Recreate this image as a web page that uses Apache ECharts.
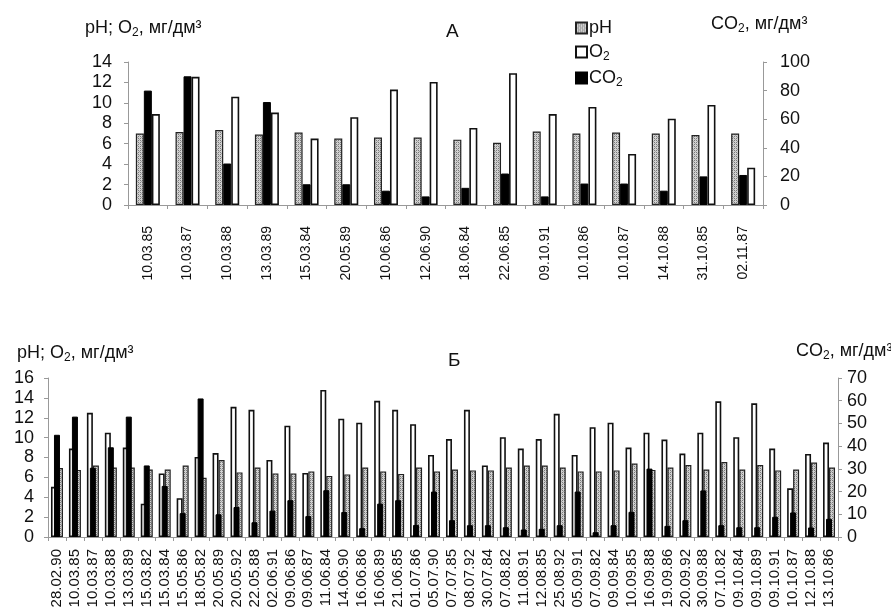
<!DOCTYPE html>
<html>
<head>
<meta charset="utf-8">
<script src="https://cdn.jsdelivr.net/npm/echarts@6/dist/echarts.min.js"></script>
<style>
  html, body { margin: 0; padding: 0; background: #fff; }
  #chart { width: 891px; height: 614px; }
</style>
</head>
<body>
<div id="chart"></div>
<script>
// Panel А: sampling dates
const datesA = ['10.03.85','10.03.87','10.03.88','13.03.89','15.03.84','20.05.89','10.06.86','12.06.90',
  '18.06.84','22.06.85','09.10.91','10.10.86','10.10.87','14.10.88','31.10.85','02.11.87'];
const phA  = [7.0, 7.15, 7.35, 6.9, 7.1, 6.5, 6.6, 6.6, 6.4, 6.1, 7.2, 7.0, 7.1, 7.0, 6.85, 7.0];
const o2A  = [8.9, 12.55, 10.6, 9.05, 6.5, 8.6, 11.3, 12.05, 7.55, 12.9, 8.9, 9.6, 5.0, 8.45, 9.8, 3.65];
const co2A = [80, 90, 29, 72, 14.5, 14.5, 10, 6, 12, 22, 6, 15, 15, 10, 20, 21];

// Panel Б: sampling dates
const datesB = ['28.02.90','10.03.85','10.03.87','10.03.88','13.03.89','15.03.82','15.03.84','15.05.86',
  '18.05.82','20.05.89','20.05.92','22.05.88','02.06.91','09.06.86','09.06.87','11.06.84','14.06.90',
  '16.06.86','16.06.89','21.06.85','01.07.86','05.07.90','07.07.85','08.07.92','30.07.84','07.08.82',
  '11.08.91','12.08.85','25.08.92','05.09.91','07.09.82','09.09.84','10.09.85','16.09.88','19.09.86',
  '20.09.92','30.09.88','07.10.82','09.10.84','09.10.89','09.10.91','10.10.87','12.10.88','13.10.86'];
const o2B  = [5.05, 8.9, 12.5, 10.5, 9.0, 3.35, 6.4, 3.9, 8.05, 8.45, 13.1, 12.8, 7.75, 11.2, 6.45,
  14.8, 11.9, 11.5, 13.7, 12.8, 11.35, 8.25, 9.85, 12.8, 7.2, 10.05, 8.9, 9.85, 12.4, 8.25, 11.05,
  11.5, 9.0, 10.5, 9.8, 8.4, 10.5, 13.65, 10.05, 13.45, 8.9, 4.9, 8.35, 9.5];
const phB  = [6.95, 6.75, 7.2, 7.0, 7.0, 6.8, 6.8, 7.2, 5.95, 7.75, 6.5, 7.0, 6.4, 6.4, 6.6, 6.15,
  6.3, 7.0, 6.6, 6.35, 7.0, 6.6, 6.8, 6.7, 6.7, 7.0, 7.2, 7.2, 7.0, 6.6, 6.6, 6.7, 7.4, 6.75,
  7.0, 7.25, 6.8, 7.55, 6.8, 7.25, 6.7, 6.8, 7.5, 7.0];
const co2B = [45, 53, 30.5, 39.5, 53, 31.5, 22.5, 10.5, 61, 10, 13.2, 6.5, 11.6, 16.2, 9.2, 20.6,
  11, 3.9, 14.7, 16.2, 5.3, 20, 7.4, 5.2, 5.2, 4.3, 3.3, 3.6, 5.2, 20, 2.1, 5.2, 11.1, 30.1, 4.9,
  7.4, 20.5, 5.2, 4.3, 4.3, 8.9, 10.8, 4.2, 8.0];

const font = 'Liberation Sans, Arial, sans-serif';
const ink = '#111';
const axisGrey = '#999';

// stippled grey fill used for the pH bars
function stipple() {
  const c = document.createElement('canvas');
  c.width = 4; c.height = 4;
  const g = c.getContext('2d');
  g.fillStyle = '#d2d2d2'; g.fillRect(0, 0, 4, 4);
  g.fillStyle = '#7a7a7a';
  g.fillRect(0, 0, 1, 1); g.fillRect(2, 2, 1, 1);
  g.fillRect(2, 0, 1, 1); g.fillRect(0, 2, 1, 1);
  g.fillStyle = '#a8a8a8';
  g.fillRect(1, 1, 1, 1); g.fillRect(3, 3, 1, 1);
  return c;
}
const phFill = { image: stipple(), repeat: 'repeat' };

const styles = {
  pH:  { color: phFill, borderColor: '#222', borderWidth: 1.2 },
  O2:  { color: '#fff', borderColor: '#111', borderWidth: 1.6 },
  CO2: { color: '#000', borderColor: '#000', borderWidth: 1 }
};

function richSet(size) {
  return {
    n: { fontSize: size, fontFamily: font, fontWeight: 'normal', color: ink, lineHeight: 22 },
    s: { fontSize: Math.round(size * 0.66), fontFamily: font, fontWeight: 'normal', color: ink, lineHeight: 12, verticalAlign: 'bottom' }
  };
}
const richSub = richSet(18);
const richLegend = richSet(18);

function valueAxis(gridIndex, max, interval, position, margin) {
  return {
    type: 'value', gridIndex, min: 0, max, interval, position,
    splitLine: { show: false },
    axisLine: { show: true, lineStyle: { color: axisGrey, width: 1 } },
    axisTick: { show: true, length: 4, lineStyle: { color: axisGrey } },
    axisLabel: { color: ink, fontSize: 18, fontFamily: font, margin }
  };
}

function catAxis(gridIndex, data, fontSize, margin) {
  return {
    type: 'category', gridIndex, data,
    axisLine: { show: true, lineStyle: { color: axisGrey, width: 1 } },
    axisTick: { show: true, length: 4, lineStyle: { color: axisGrey } },
    axisLabel: { rotate: 90, interval: 0, color: ink, fontSize, fontFamily: font, margin }
  };
}

const chart = echarts.init(document.getElementById('chart'), null, { renderer: 'canvas' });

const titleText = { fontSize: 19, fontWeight: 'normal', fontFamily: font, color: ink };

chart.setOption({
  backgroundColor: '#fff',
  animation: false,
  title: [
    { text: 'А', left: 441, top: 17, textStyle: titleText },
    { text: 'Б', left: 443, top: 346, textStyle: titleText },
    { text: '{n|pH; O}{s|2}{n|, мг/дм³}', left: 80, top: 12, textStyle: { rich: richSub } },
    { text: '{n|CO}{s|2}{n|, мг/дм³}', left: 706, top: 8, textStyle: { rich: richSub } },
    { text: '{n|pH; O}{s|2}{n|, мг/дм³}', left: 12, top: 337, textStyle: { rich: richSub } },
    { text: '{n|CO}{s|2}{n|, мг/дм³}', left: 791, top: 335, textStyle: { rich: richSub } }
  ],
  legend: {
    orient: 'vertical', left: 570, top: 14,
    itemWidth: 11, itemHeight: 11, itemGap: 6,
    icon: 'rect',
    data: ['pH', 'O2', 'CO2'],
    formatter: function (name) {
      if (name === 'O2') return '{n|O}{s|2}';
      if (name === 'CO2') return '{n|CO}{s|2}';
      return '{n|' + name + '}';
    },
    textStyle: { rich: richLegend, padding: [0, 0, 0, -3] }
  },
  grid: [
    { left: 128, right: 128, top: 62, bottom: 409 },
    { left: 48, right: 53, top: 378, bottom: 77 }
  ],
  xAxis: [
    catAxis(0, datesA, 14, 21),
    catAxis(1, datesB, 15, 12)
  ],
  yAxis: [
    valueAxis(0, 14, 2, 'left', 16),
    valueAxis(0, 100, 20, 'right', 17),
    valueAxis(1, 16, 2, 'left', 14),
    valueAxis(1, 70, 10, 'right', 9)
  ],
  series: [
    // panel А: pH, CO2, O2 side by side
    { name: 'pH', type: 'bar', xAxisIndex: 0, yAxisIndex: 0, data: phA, barWidth: 8, barGap: '0%', itemStyle: styles.pH },
    { name: 'CO2', type: 'bar', xAxisIndex: 0, yAxisIndex: 1, data: co2A, barWidth: 8, barGap: '0%', itemStyle: styles.CO2 },
    { name: 'O2', type: 'bar', xAxisIndex: 0, yAxisIndex: 0, data: o2A, barWidth: 8, barGap: '0%', itemStyle: styles.O2 },
    // panel Б: O2, CO2, pH overlapping, CO2 in front
    { name: 'O2', type: 'bar', xAxisIndex: 1, yAxisIndex: 2, data: o2B, barWidth: 6, barGap: '-50%', itemStyle: styles.O2, z: 2 },
    { name: 'CO2', type: 'bar', xAxisIndex: 1, yAxisIndex: 3, data: co2B, barWidth: 6, barGap: '-50%', itemStyle: styles.CO2, z: 4 },
    { name: 'pH', type: 'bar', xAxisIndex: 1, yAxisIndex: 2, data: phB, barWidth: 6, barGap: '-50%', itemStyle: styles.pH, z: 3 }
  ]
});
</script>
</body>
</html>
